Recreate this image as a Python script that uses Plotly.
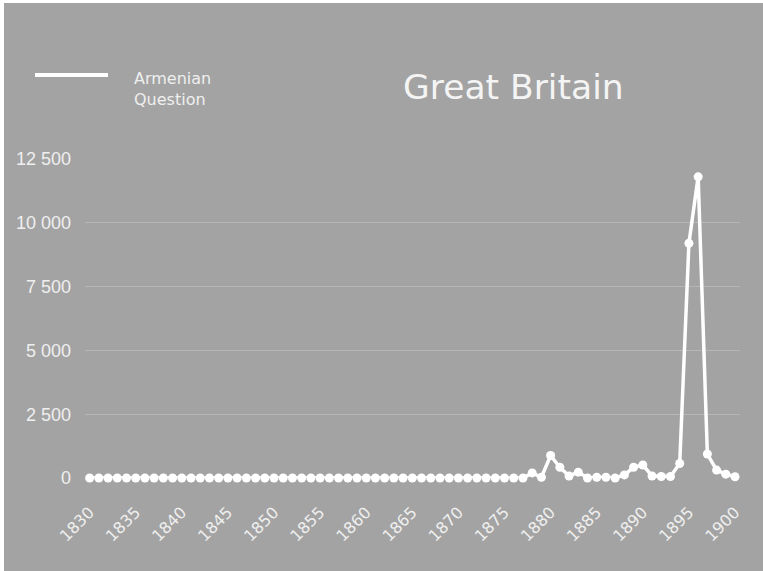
import plotly.graph_objects as go

# ---- data ----
years = [1830, 1831, 1832, 1833, 1834, 1835, 1836, 1837, 1838, 1839,
         1840, 1841, 1842, 1843, 1844, 1845, 1846, 1847, 1848, 1849,
         1850, 1851, 1852, 1853, 1854, 1855, 1856, 1857, 1858, 1859,
         1860, 1861, 1862, 1863, 1864, 1865, 1866, 1867, 1868, 1869,
         1870, 1871, 1872, 1873, 1874, 1875, 1876, 1877, 1878, 1879,
         1880, 1881, 1882, 1883, 1884, 1885, 1886, 1887, 1888, 1889,
         1890, 1891, 1892, 1893, 1894, 1895, 1896, 1897, 1898, 1899,
         1900]
armenian_question = [0, 0, 0, 0, 0, 0, 0, 0, 0, 0,
                     0, 0, 0, 0, 0, 0, 0, 0, 0, 0,
                     0, 0, 0, 0, 0, 0, 0, 0, 0, 0,
                     0, 0, 0, 0, 0, 0, 0, 0, 0, 0,
                     0, 0, 0, 0, 0, 0, 0, 0, 200, 30,
                     880, 420, 80, 230, 0, 30, 30, 0, 120, 420,
                     510, 80, 60, 60, 570, 9200, 11800, 940, 310, 150,
                     50]
x_ticks = [1830, 1835, 1840, 1845, 1850, 1855, 1860, 1865, 1870, 1875,
           1880, 1885, 1890, 1895, 1900]
y_ticks = [0, 2500, 5000, 7500, 10000, 12500]
series_name = "Armenian<br>Question"
title_text = "Great Britain"

# ---- layout geometry (pixels) ----
W, H = 763, 571
PL, PR, PT, PB = 85, 740, 159, 478
BG = "#a3a3a3"
TXT = "#efefef"


def px_x(p):
    return (p - PL) / (PR - PL)


def px_y(p):
    return (PB - p) / (PB - PT)


fig = go.Figure()
fig.add_trace(go.Scatter(
    x=years, y=armenian_question, mode="lines+markers",
    line=dict(color="white", width=3.5),
    marker=dict(color="white", size=9),
    cliponaxis=False, showlegend=False, name="Armenian Question",
))

fig.update_layout(
    width=W, height=H,
    margin=dict(l=PL, r=W - PR, t=PT, b=H - PB, pad=0),
    paper_bgcolor="white", plot_bgcolor=BG,
    separators=". ",
    showlegend=False,
    xaxis=dict(range=[1829.5, 1900.54], tickmode="array", tickvals=x_ticks,
               ticktext=[str(t) for t in x_ticks], tickangle=-45,
               showgrid=False, zeroline=False, showline=False,
               ticks="", ticklabelstandoff=21,
               tickfont=dict(family="DejaVu Sans", size=16, color=TXT)),
    yaxis=dict(range=[0, 12500], tickmode="array", tickvals=y_ticks,
               showgrid=True, gridcolor="#b6b6b6", gridwidth=1,
               zeroline=False, showline=False, ticks="", ticklabelstandoff=13,
               tickformat=",d",
               tickfont=dict(family="Liberation Sans", size=18, color=TXT)),
    shapes=[
        dict(type="rect", xref="paper", yref="paper", layer="below",
             x0=px_x(4), x1=px_x(W + 2), y0=px_y(H + 2), y1=px_y(3),
             fillcolor=BG, line=dict(width=0)),
        dict(type="line", xref="paper", yref="paper",
             x0=px_x(35), x1=px_x(108), y0=px_y(75), y1=px_y(75),
             line=dict(color="white", width=4)),
    ],
    annotations=[
        dict(text=title_text, xref="paper", yref="paper",
             x=px_x(513), y=px_y(87), xanchor="center", yanchor="middle",
             showarrow=False,
             font=dict(family="DejaVu Sans", size=34.5, color="#f4f4f4")),
        dict(text=series_name, xref="paper", yref="paper",
             x=px_x(132), y=px_y(89), xanchor="left", yanchor="middle",
             align="left", showarrow=False,
             font=dict(family="DejaVu Sans", size=16, color=TXT)),
    ],
)

fig.write_html("out.html",
               config={"displayModeBar": False},
               post_script="document.body.style.margin='0';"
                           "document.body.style.overflow='hidden';")
